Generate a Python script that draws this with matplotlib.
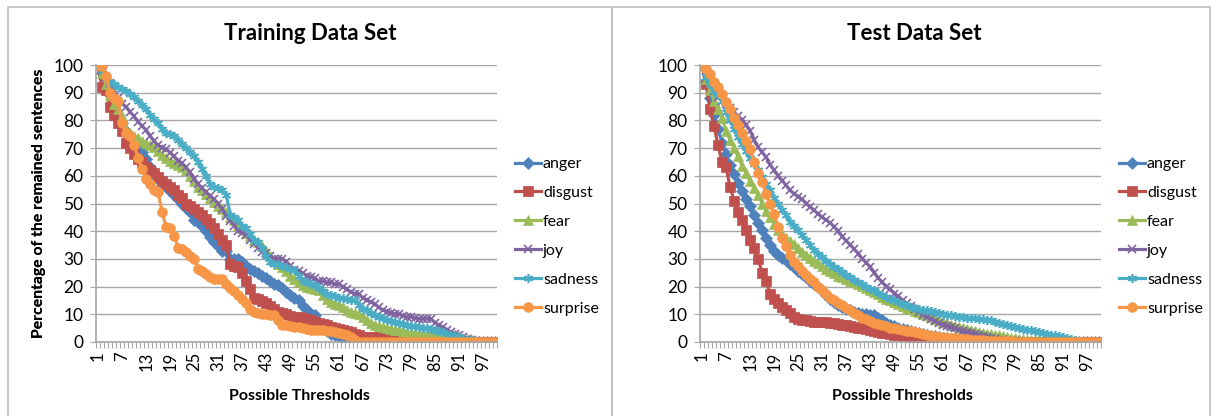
import numpy as np
import matplotlib.pyplot as plt
from matplotlib.patches import Rectangle

plt.rcParams['font.family'] = ['Lato', 'DejaVu Sans']

emotions = ['anger', 'disgust', 'fear', 'joy', 'sadness', 'surprise']
colors = ['#4F81BD', '#C0504D', '#9BBB59', '#8064A2', '#4BACC6', '#F79646']
markers = ['D', 's', '^', 'x', (6, 2, 0), 'o']
thresholds = list(range(1, 101))

# Training data set (percentage of remaining sentences per threshold)
tr_anger = [100, 97, 93, 89, 85, 82, 79, 76, 74, 72,
            70, 68.5, 66, 63, 61, 59, 57.5, 56, 54.5, 53,
            51.5, 50, 48.5, 47, 44, 43.5, 42, 40, 38, 36,
            34.5, 33, 33, 30, 30, 30, 29, 27.6, 26.5, 25.5,
            25, 24, 23, 22, 21, 20.4, 19.5, 18, 16.8, 16,
            15, 13, 11.5, 10, 9.6, 7, 5, 4, 3, 2.5,
            2, 1, 0.5, 0, 0, 0, 0, 0, 0, 0,
            0, 0, 0, 0, 0, 0, 0, 0, 0, 0,
            0, 0, 0, 0, 0, 0, 0, 0, 0, 0,
            0, 0, 0, 0, 0, 0, 0, 0, 0, 0]
tr_disgust = [100, 92, 91, 85, 82, 79, 76, 72, 70, 68,
              66, 65, 63, 62, 61, 59.5, 58, 57, 56, 55,
              53, 52, 50, 49, 48, 47, 46, 44.5, 43, 41,
              39, 37, 35, 28, 27.6, 27, 25, 22, 19, 16,
              15.6, 14.8, 14, 13, 12, 11, 10.5, 10, 9.5, 9.2,
              9, 8.6, 8.2, 7.8, 7.4, 7, 6.5, 6, 5.5, 5.2,
              4.8, 4.4, 4, 3.6, 3, 2.4, 1.8, 1.8, 1.8, 1.8,
              1.8, 1.8, 1.2, 0.6, 0.6, 0, 0, 0, 0, 0,
              0, 0, 0, 0, 0, 0, 0, 0, 0, 0,
              0, 0, 0, 0, 0, 0, 0, 0, 0, 0]
tr_fear = [100, 97, 93, 89, 86, 84, 81.6, 77, 75.5, 74.5,
           73.5, 72.5, 72, 71, 70.5, 69, 67.5, 66.6, 65.5, 64.8,
           64, 63, 62, 60, 58, 56, 55, 53.5, 52, 50.4,
           49, 48, 46.8, 45, 44, 42, 41, 39.5, 38.4, 37,
           36, 34.8, 33, 31.2, 29.5, 28, 27, 25.5, 24, 22.8,
           21.5, 20.5, 20, 19.5, 19, 18.6, 17, 15.6, 14.5, 13.8,
           13.2, 12.5, 11.5, 11, 10.5, 10.2, 9, 7.8, 7, 6.2,
           5.6, 5.4, 5, 4.8, 4.4, 4.2, 4, 3.6, 3.4, 3.2,
           3, 3, 3, 3, 2.8, 2.6, 2.4, 2.4, 2.4, 2.4,
           2, 1.6, 1.2, 1.2, 0.6, 0, 0, 0, 0, 0]
tr_joy = [100, 98, 95.5, 93.6, 91, 88, 86, 85, 83, 81.5,
          79.5, 78, 76.5, 74.4, 72.5, 71, 70.2, 69.5, 68.4, 67,
          65.5, 64.5, 63, 61.2, 59, 57, 55.5, 54, 52.8, 51.5,
          50, 48, 45.6, 43.8, 42, 40.2, 39.5, 38.5, 37, 35.5,
          34, 32.5, 32, 31, 30, 30, 30, 29, 27.5, 26,
          25.5, 25, 24, 23.5, 23, 22, 22, 21.5, 21.5, 21,
          21, 20, 19, 18, 17.5, 17.4, 16, 15, 14.5, 13.8,
          12.5, 11.5, 11, 10.5, 10.2, 10, 9.5, 9, 9, 8.6,
          8.4, 8.4, 8.4, 8.4, 7, 6, 5.4, 4.5, 3.5, 3,
          2.4, 1.8, 1.2, 0.6, 0.5, 0, 0, 0, 0, 0]
tr_sadness = [100, 98, 96, 94, 93, 92, 91.5, 90.5, 89.5, 88.5,
              87, 85.5, 84, 82, 80.5, 79, 77, 75.5, 75, 74.5,
              73, 71.5, 70, 68.5, 67, 65, 62.5, 60, 57, 56,
              55.5, 55, 53, 46, 45, 44, 42, 41, 39, 37,
              36, 34, 31, 29, 28, 28, 27.5, 27, 26.5, 26,
              24, 22, 21.5, 21, 20.5, 19.5, 18.5, 17.5, 17, 16.5,
              16, 16, 15.6, 15.2, 15, 13.5, 12, 11.4, 10.5, 9.8,
              9, 8.5, 8, 7.6, 7.2, 7, 6.5, 6, 5.8, 5.6,
              5.4, 5.2, 5, 4.6, 4.2, 4, 3.6, 3, 2.5, 2,
              1.8, 1.2, 0.8, 0.6, 0.3, 0, 0, 0, 0, 0]
tr_surprise = [100, 99.6, 96, 90, 88, 87, 79, 75.6, 74.4, 71,
               66.6, 62.4, 59, 57, 55, 54, 46.8, 41.4, 41, 38.4,
               34, 33.6, 32.4, 31, 30, 26.4, 25.5, 24.6, 23.5, 22.8,
               22.6, 22.6, 21, 19.5, 18.5, 17, 15.5, 14, 12, 11,
               10.5, 10, 10, 9.8, 9.6, 8, 6, 6, 5.6, 5.4,
               5.4, 5, 4.8, 4.5, 4.2, 4.2, 4.2, 4, 3.8, 3.6,
               3.4, 3, 2.4, 1.8, 0.6, 0, 0, 0, 0, 0,
               0, 0, 0, 0, 0, 0, 0, 0, 0, 0,
               0, 0, 0, 0, 0, 0, 0, 0, 0, 0,
               0, 0, 0, 0, 0, 0, 0, 0, 0, 0]

# Test data set
te_anger = [100, 94, 88, 82, 77, 72, 68, 64, 60.5, 57.5,
            54.5, 51.5, 49, 46, 43, 40.5, 37.5, 35, 33, 31.5,
            30.5, 29.5, 28, 27, 25.8, 24.5, 23.3, 22.2, 21, 19.8,
            18.6, 17, 15.5, 14.4, 13.5, 12.5, 12, 11.5, 11, 10.5,
            10.2, 10, 9.8, 9.6, 8.5, 7.8, 7, 6.2, 5.6, 5,
            4.6, 4.2, 3.8, 3.5, 3.2, 2.9, 2.6, 2.3, 2, 1.8,
            1.6, 1.4, 1.2, 1, 0.9, 0.8, 0.7, 0.6, 0.5, 0.4,
            0.3, 0.3, 0.2, 0.2, 0.1, 0, 0, 0, 0, 0,
            0, 0, 0, 0, 0, 0, 0, 0, 0, 0,
            0, 0, 0, 0, 0, 0, 0, 0, 0, 0]
te_disgust = [100, 93, 84, 78, 71, 65, 63, 56, 51, 47,
              44, 40.5, 37, 34, 30, 25, 22, 17.5, 15.5, 14,
              12.5, 11.5, 10.5, 9, 8.4, 8, 7.8, 7.6, 7.4, 7.3,
              7.2, 7.1, 7, 6.8, 6.5, 6.2, 6, 5.8, 5.5, 5.2,
              4.9, 4.6, 4.3, 4, 3.7, 3.4, 3.1, 2.8, 2.6, 2.4,
              2.2, 2, 1.8, 1.6, 1.4, 1.2, 1, 0.8, 0.6, 0.5,
              0.4, 0.3, 0.3, 0.2, 0.2, 0.2, 0.1, 0.1, 0.1, 0.1,
              0, 0, 0, 0, 0, 0, 0, 0, 0, 0,
              0, 0, 0, 0, 0, 0, 0, 0, 0, 0,
              0, 0, 0, 0, 0, 0, 0, 0, 0, 0]
te_fear = [100, 95, 91, 87, 84, 81, 76, 73, 70, 67,
           63.5, 61, 58, 55.5, 53, 50, 47.4, 45, 42.5, 40.5,
           39, 37.5, 36.5, 35.5, 34, 32.5, 31.5, 30.5, 29.4, 28.4,
           27.4, 26.4, 25.6, 24.8, 24, 23.4, 22.8, 22.2, 21.6, 21,
           20.2, 19.4, 18.6, 18, 17.2, 16.4, 15.6, 15, 14.4, 13.8,
           13, 12.4, 11.8, 11.2, 10.8, 10.2, 9.6, 9, 8.4, 7.8,
           7.3, 6.8, 6.3, 5.8, 5.4, 5, 4.6, 4.2, 3.9, 3.6,
           3.3, 3, 2.8, 2.6, 2.4, 2.2, 1.9, 1.6, 1.4, 1.2,
           1, 0.9, 0.8, 0.7, 0.6, 0.5, 0.3, 0.2, 0.1, 0,
           0, 0, 0, 0, 0, 0, 0, 0, 0, 0]
te_joy = [100, 95.5, 93, 90.5, 88.5, 87, 86, 84.5, 83, 81.5,
          80.3, 78.5, 76.3, 73, 70.3, 68.5, 66.7, 64, 62, 60,
          58.3, 56.5, 54.7, 53.5, 52.5, 51.5, 50, 48.7, 47.5, 46.2,
          45, 44, 43, 41.5, 40, 38, 36.5, 35, 33.5, 31.9,
          30, 28.5, 27, 25, 23, 21.5, 20, 19, 17.5, 16.5,
          15, 14, 13, 11.8, 10.8, 9.8, 9, 8.4, 7.5, 6.8,
          6.2, 5.8, 5.4, 5, 4.5, 4, 3.6, 3.4, 3, 2.6,
          2.2, 1.8, 1.4, 1, 0.8, 0.6, 0.5, 0.4, 0.3, 0.2,
          0.1, 0.1, 0, 0, 0, 0, 0, 0, 0, 0,
          0, 0, 0, 0, 0, 0, 0, 0, 0, 0]
te_sadness = [100, 95.5, 93, 90.7, 89, 87, 83, 80, 77, 74,
              71.5, 69, 66.5, 64.3, 62, 59.5, 57, 54.7, 52, 49.9,
              47.5, 45.7, 43.5, 42, 40.3, 38.5, 36.7, 35, 33.3, 31.9,
              30.6, 29.4, 28.2, 27.2, 26.2, 25.2, 24.2, 23.4, 22.5, 21.6,
              20.8, 20, 19.3, 18.6, 17.8, 17, 16.3, 15.6, 15, 14.4,
              13.8, 13.2, 12.8, 12.4, 12, 11.7, 11.4, 11.1, 10.8, 10.5,
              10.2, 9.9, 9.6, 9.4, 9.2, 9, 8.8, 8.6, 8.5, 8.4,
              8.2, 8, 7.8, 7.2, 6.8, 6.4, 6, 5.7, 5.4, 5.1,
              4.8, 4.5, 4.2, 3.9, 3.6, 3.3, 3, 2.7, 2.4, 2.1,
              1.8, 1.5, 1.2, 0.6, 0.3, 0, 0, 0, 0, 0]
te_surprise = [100, 98.5, 96.8, 94, 92, 89.5, 86.5, 84, 81, 78.5,
               75.5, 72.5, 69.5, 65, 61, 57.7, 53.5, 49.9, 46.3, 41.5,
               37.5, 34.5, 31.5, 29, 27.3, 25.8, 24.2, 22.8, 21.5, 20,
               18.6, 17.2, 16, 15, 14, 13.2, 12.2, 11.4, 10.5, 9.6,
               8.8, 8.2, 7.6, 7, 6.5, 6, 5.6, 5.2, 4.9, 4.7,
               4.4, 4.1, 3.8, 3.5, 3.2, 2.9, 2.6, 2.3, 2.1, 1.9,
               1.7, 1.5, 1.4, 1.3, 1.2, 1.1, 1, 0.9, 0.8, 0.7,
               0.6, 0.5, 0.5, 0.4, 0.3, 0.3, 0.2, 0.2, 0.1, 0.1,
               0, 0, 0, 0, 0, 0, 0, 0, 0, 0,
               0, 0, 0, 0, 0, 0, 0, 0, 0, 0]

train_series = [tr_anger, tr_disgust, tr_fear, tr_joy, tr_sadness, tr_surprise]
test_series = [te_anger, te_disgust, te_fear, te_joy, te_sadness, te_surprise]

W, H = 1216, 416
fig = plt.figure(figsize=(W / 100, H / 100), dpi=100)

# chart frames
for x0, x1 in [(8, 612), (612, 1210)]:
    fig.patches.append(Rectangle((x0 / W, -0.05), (x1 - x0) / W, 1.05 - 7 / H,
                                 transform=fig.transFigure, fill=False,
                                 edgecolor='#BFBFBF', linewidth=1.2))

grid_col = '#A6A6A6'
marker_sizes = {'D': 6, 's': 6.5, '^': 6.5, 'x': 6, 'o': 7}


def draw_panel(left, series, title, title_x, xlabel_x, legend_x):
    ax = fig.add_axes([left / W, 1 - 342 / H, 401 / W, (342 - 65) / H])
    for vals, c, m, name in zip(series, colors, markers, emotions):
        ms = marker_sizes.get(m, 6.5) if isinstance(m, str) else 6.5
        mew = 1.2 if m in ('x', (6, 2, 0)) else 0.5
        ax.plot(thresholds, vals, color=c, lw=2.3, marker=m, ms=ms,
                mec=c, mfc=c, mew=mew, label=name)
    ax.set_xlim(0.5, 100.5)
    ax.set_ylim(0, 100)
    ax.set_yticks(range(0, 101, 10))
    ax.set_xticks(range(1, 101, 6))
    ax.set_xticks(np.arange(0.5, 101, 1), minor=True)
    ax.tick_params(axis='x', which='major', length=0, labelrotation=90,
                   labelsize=12, pad=7)
    ax.tick_params(axis='x', which='minor', length=4, color=grid_col, width=0.8)
    ax.tick_params(axis='y', length=4, color=grid_col, labelsize=12.5, pad=5)
    ax.grid(axis='y', color=grid_col, lw=1)
    ax.set_axisbelow(True)
    for s in ['top', 'right']:
        ax.spines[s].set_visible(False)
    for s in ['left', 'bottom']:
        ax.spines[s].set_color(grid_col)
        ax.spines[s].set_linewidth(1.2)
    ax.set_ylabel('Percentage of the remained sentences', fontsize=11.3,
                  fontweight='bold')
    ax.yaxis.set_label_coords((46 - left) / 401, 0.5)
    fig.text(title_x / W, 1 - 33 / H, title, fontsize=16, fontweight='bold',
             ha='center', va='center')
    fig.text(xlabel_x / W, 1 - 396 / H, 'Possible Thresholds', fontsize=11.5,
             fontweight='bold', ha='center', va='center')
    fig.legend(*ax.get_legend_handles_labels(), loc='upper left',
               bbox_to_anchor=(legend_x / W, 1 - 157 / H), frameon=False,
               fontsize=11.5, handlelength=1.6, handletextpad=0.15,
               labelspacing=0.92, borderaxespad=0, borderpad=0)
    return ax


draw_panel(96, train_series, 'Training Data Set', 310, 299, 515)
draw_panel(700, test_series, 'Test Data Set', 914, 902, 1119)

fig.savefig('out.png', dpi=100)
